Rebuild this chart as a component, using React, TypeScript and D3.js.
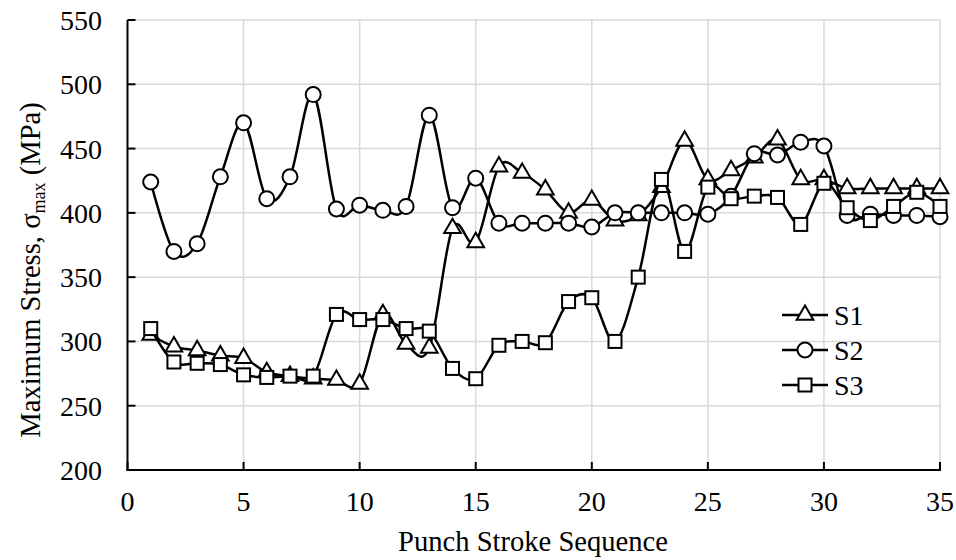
import React from 'react';
import * as d3 from 'd3';

const strokes = [1, 2, 3, 4, 5, 6, 7, 8, 9, 10, 11, 12, 13, 14, 15, 16, 17, 18, 19, 20, 21, 22, 23, 24, 25, 26, 27, 28, 29, 30, 31, 32, 33, 34, 35];

const s1 = [305, 296, 293, 289, 287, 276, 273, 271, 270, 267, 321, 298, 295, 388, 377, 436, 431, 418, 400, 410, 394, 398, 420, 456, 426, 433, 443, 457, 426, 426, 419, 419, 419, 419, 419];
const s2 = [424, 370, 376, 428, 470, 411, 428, 492, 403, 406, 402, 405, 476, 404, 427, 392, 392, 392, 392, 389, 400, 400, 400, 400, 399, 413, 446, 445, 455, 452, 398, 399, 398, 398, 397];
const s3 = [310, 284, 283, 282, 274, 272, 273, 273, 321, 317, 317, 310, 308, 279, 271, 297, 300, 299, 331, 334, 300, 350, 426, 370, 420, 411, 413, 412, 391, 423, 404, 394, 405, 416, 405];

const seriesNames = ['S1', 'S2', 'S3'];
const xTicks = [0, 5, 10, 15, 20, 25, 30, 35];
const yTicks = [200, 250, 300, 350, 400, 450, 500, 550];

const W = 956, H = 560;
const font = "'Liberation Serif', 'Times New Roman', serif";

const Marker = ({ kind, x, y }: { kind: string; x: number; y: number }) => {
    if (kind === 'S2') {
        return <circle cx={x} cy={y} r={7.5} fill="#fff" stroke="#000" strokeWidth={2} />;
    }
    if (kind === 'S3') {
        return <rect x={x - 6.5} y={y - 6.5} width={13} height={13} fill="#fff" stroke="#000" strokeWidth={2} />;
    }
    const tri = d3.symbol(d3.symbolTriangle, 120)();
    return <path d={tri || ''} transform={`translate(${x},${y})`} fill="#fff" stroke="#000" strokeWidth={2} />;
};

const App = () => {
    const x = d3.scaleLinear().domain([0, 35]).range([127.5, 940]);
    const y = d3.scaleLinear().domain([200, 550]).range([470, 20]);

    const line = d3.line<number>()
        .curve(d3.curveCardinal.tension(0))
        .x((d, i) => x(strokes[i]))
        .y(d => y(d));

    const series = [s1, s2, s3];
    const legendY = [315, 350, 385];
    const txt = { fontFamily: font };

    return (
        <div style={{ position: 'absolute', left: 0, top: 0 }}>
            <svg width={W} height={H} style={{ display: 'block', background: '#fff', fontFamily: font }}>
                {/* grid */}
                {yTicks.filter(t => t > 200).map(t => (
                    <line key={'gy' + t} x1={x(0)} x2={x(35)} y1={y(t)} y2={y(t)} stroke="#d9d9d9" strokeWidth={1.5} />
                ))}
                {xTicks.filter(t => t > 0).map(t => (
                    <line key={'gx' + t} x1={x(t)} x2={x(t)} y1={y(200)} y2={y(550)} stroke="#d9d9d9" strokeWidth={1.5} />
                ))}

                {/* axes, ticks inside */}
                <line x1={x(0)} x2={x(0)} y1={y(200) + 1} y2={y(550)} stroke="#000" strokeWidth={2} />
                <line x1={x(0) - 1} x2={x(35) + 1} y1={y(200)} y2={y(200)} stroke="#000" strokeWidth={2} />
                {yTicks.map(t => (
                    <line key={'ty' + t} x1={x(0)} x2={x(0) + 8} y1={y(t)} y2={y(t)} stroke="#000" strokeWidth={2} />
                ))}
                {xTicks.map(t => (
                    <line key={'tx' + t} x1={x(t)} x2={x(t)} y1={y(200)} y2={y(200) - 8} stroke="#000" strokeWidth={2} />
                ))}

                {yTicks.map(t => (
                    <text key={'ly' + t} style={txt} x={102} y={y(t) + 10} textAnchor="end" fontSize={28} fill="#000">{t}</text>
                ))}
                {xTicks.map(t => (
                    <text key={'lx' + t} style={txt} x={x(t)} y={511} textAnchor="middle" fontSize={28} fill="#000">{t}</text>
                ))}

                <text style={txt} x={533} y={551} textAnchor="middle" fontSize={28.6} fill="#000">Punch Stroke Sequence</text>
                <text style={txt} transform="translate(40,270) rotate(-90)" textAnchor="middle" fontSize={28.6} fill="#000">
                    Maximum Stress, σ<tspan fontSize={18} dy={5}>max</tspan><tspan dy={-5}> (MPa)</tspan>
                </text>

                {/* series: line then markers, S1 → S3 */}
                {series.map((s, si) => (
                    <g key={seriesNames[si]}>
                        <path d={line(s) || ''} fill="none" stroke="#000" strokeWidth={2.5} />
                        {s.map((v, i) => (
                            <Marker key={i} kind={seriesNames[si]} x={x(strokes[i])} y={y(v)} />
                        ))}
                    </g>
                ))}

                {/* legend */}
                {seriesNames.map((n, i) => (
                    <g key={'lg' + n}>
                        <line x1={782} x2={828} y1={legendY[i]} y2={legendY[i]} stroke="#000" strokeWidth={2.5} />
                        <Marker kind={n} x={805} y={legendY[i]} />
                        <text style={txt} x={834} y={legendY[i] + 10} fontSize={28} fill="#000">{n}</text>
                    </g>
                ))}
            </svg>
        </div>
    );
};

export default App;
